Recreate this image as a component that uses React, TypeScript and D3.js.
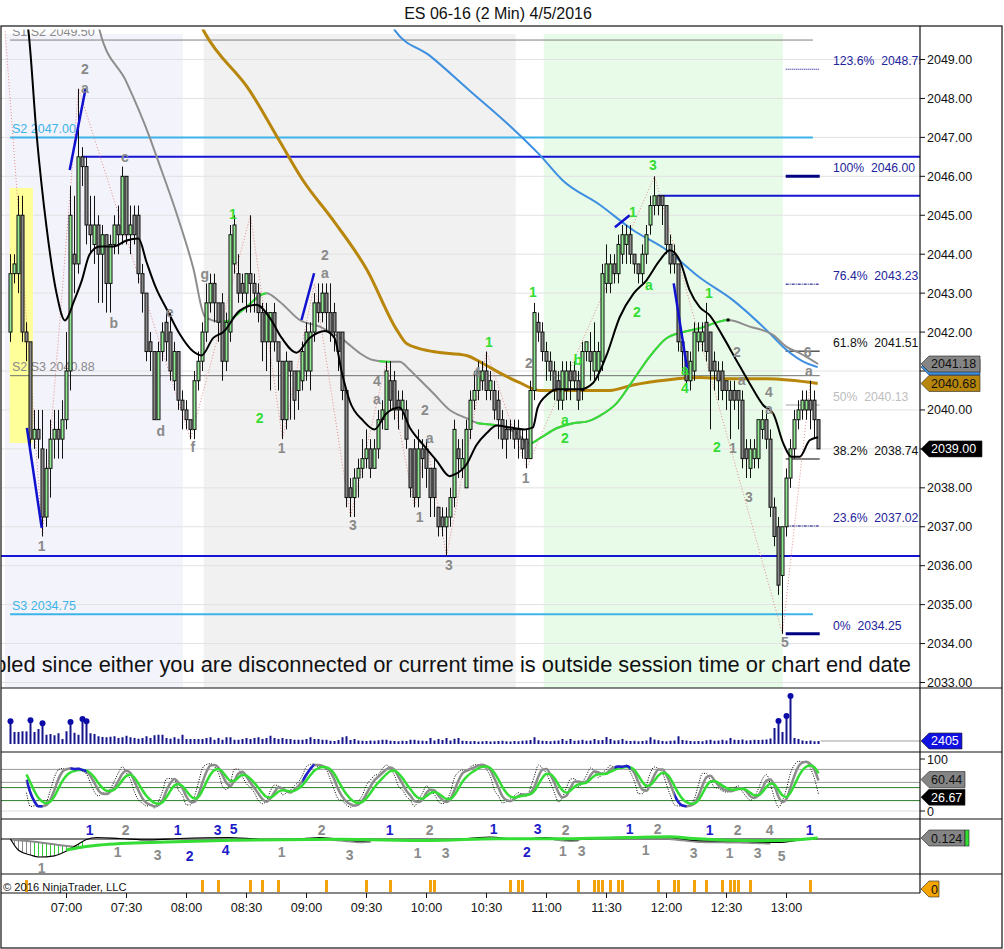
import React from "react";
import * as d3 from "d3";

// ---------------- data ----------------
const chartTitle = "ES 06-16 (2 Min)  4/5/2016";
const firstBarMinute = 392; // 06:32, one bar every 2 minutes
const barMinutes = 2;

// [open, high, low, close]
const candles: [number, number, number, number][] = [
  [2042, 2044, 2041.75, 2043.5], [2043.5, 2044, 2043.25, 2043.75], [2043.5, 2045.5, 2043, 2045], [2045, 2045.5, 2041.75, 2042],
  [2042, 2042.25, 2041.25, 2041.75], [2041.75, 2041.75, 2038.75, 2039.25], [2039.25, 2040, 2039, 2039.5], [2039.5, 2040, 2038.75, 2039.25],
  [2039, 2040, 2036.75, 2037.25], [2037.25, 2039, 2037, 2038.5], [2038.5, 2039.75, 2037.75, 2039.25], [2039.25, 2040, 2038.75, 2039.5],
  [2039.5, 2040, 2038.75, 2039.25], [2039.25, 2040.25, 2038.75, 2039.75], [2039.75, 2042, 2039.5, 2041], [2041, 2045.75, 2040.5, 2045],
  [2044, 2045.5, 2043, 2043.75], [2043.75, 2048.25, 2043.5, 2046.5], [2046.5, 2046.75, 2045.75, 2046.25], [2046.25, 2046.5, 2044.25, 2044.75],
  [2044.75, 2045.5, 2044, 2044.5], [2044.25, 2045.5, 2043.75, 2044.75], [2044.75, 2045, 2042.75, 2044], [2044, 2044.75, 2042.75, 2044.5],
  [2044.5, 2044.5, 2042.5, 2043.25], [2043.25, 2044.5, 2042.5, 2044.25], [2044.25, 2045, 2044, 2044.75], [2044.75, 2045.25, 2044, 2044.5],
  [2044.5, 2046.25, 2044.25, 2046], [2046, 2046, 2044.25, 2044.5], [2044.5, 2045.25, 2044, 2044.75], [2045, 2045.25, 2044.25, 2044.5],
  [2045, 2045.25, 2043.25, 2043.5], [2043.5, 2043.75, 2042.5, 2043], [2043, 2043, 2041.25, 2041.5], [2041.75, 2042, 2041, 2041.5],
  [2041.5, 2041.5, 2039.75, 2039.75], [2039.75, 2041.75, 2039.75, 2041.5], [2041.5, 2042.25, 2041.25, 2042], [2042.25, 2042.5, 2041.25, 2041.75],
  [2042, 2042.5, 2040.75, 2041], [2040.75, 2041.75, 2040.5, 2041.5], [2041.5, 2041.5, 2040, 2040.25], [2040.25, 2040.5, 2039.5, 2040],
  [2040, 2040.25, 2039.5, 2039.75], [2039.75, 2039.75, 2039.25, 2039.5], [2039.5, 2041, 2039.25, 2040.75], [2040.75, 2041.5, 2040.5, 2041.25],
  [2041.25, 2042.25, 2041, 2042], [2042, 2043.25, 2041.75, 2042.75], [2042.75, 2043.5, 2042.5, 2043.25], [2043.25, 2043.5, 2042.25, 2042.75],
  [2042.75, 2042.75, 2041.75, 2042.25], [2042.75, 2043, 2040.75, 2041.25], [2041.25, 2042.5, 2041, 2042.25], [2042, 2044.75, 2041.75, 2044.5],
  [2043.75, 2045, 2043.5, 2044.75], [2043.5, 2044, 2042.75, 2043], [2043.25, 2043.5, 2042.75, 2043], [2043, 2043.5, 2042.5, 2043.5],
  [2043.5, 2045, 2042.5, 2043.25], [2043.25, 2043.5, 2042.5, 2043], [2043, 2043.25, 2042.25, 2042.5], [2042.5, 2042.75, 2041.25, 2041.75],
  [2041.75, 2042.75, 2041, 2042.5], [2041.75, 2042.5, 2040.5, 2042.5], [2042.5, 2042.75, 2041.5, 2041.75], [2041.75, 2041.75, 2040.5, 2041.25],
  [2041.25, 2041.25, 2039.25, 2039.75], [2039.75, 2041.5, 2039.5, 2041.25], [2041.25, 2041.25, 2039.75, 2041], [2041, 2041, 2039.75, 2040.25],
  [2040.5, 2041, 2040, 2041], [2040.75, 2041.75, 2040.5, 2041.5], [2041, 2042.25, 2040.75, 2042], [2041, 2042.25, 2040.5, 2042],
  [2042, 2043, 2041.75, 2042.75], [2042.75, 2043.25, 2042.25, 2042.5], [2042.5, 2043.25, 2042.25, 2043], [2043, 2043.25, 2042, 2042.5],
  [2042.5, 2043.25, 2041.75, 2042], [2042.5, 2042.75, 2041.5, 2042], [2042, 2042, 2041, 2041.5], [2042, 2042, 2040.25, 2040.5],
  [2040.5, 2040.5, 2037.5, 2037.75], [2038, 2038.25, 2037.25, 2037.75], [2037.75, 2038.5, 2037.25, 2038.25], [2038.25, 2038.75, 2037.75, 2038.5],
  [2038.5, 2039.25, 2038.25, 2038.75], [2038.75, 2039.5, 2038.5, 2039], [2039, 2039.25, 2038.25, 2038.5], [2038.5, 2039.25, 2038.5, 2039],
  [2039, 2040, 2038.75, 2039.75], [2039.75, 2040.25, 2039.5, 2040], [2039.5, 2041.25, 2039.5, 2041], [2040.75, 2041.25, 2040, 2040.25],
  [2040.75, 2041, 2039.75, 2040], [2040.25, 2040.5, 2039.5, 2040], [2040, 2040.5, 2039.75, 2040.25], [2040, 2040.25, 2039, 2039.25],
  [2039, 2039, 2037.75, 2038], [2039, 2039.25, 2037.5, 2037.75], [2037.75, 2039.5, 2037.5, 2039], [2039, 2039.25, 2038.25, 2038.75],
  [2039, 2039.25, 2038, 2038.5], [2038.5, 2038.5, 2037.25, 2037.75], [2038.5, 2038.75, 2037.25, 2037.75], [2037.5, 2037.5, 2036.75, 2037],
  [2037.25, 2037.5, 2036.75, 2037], [2037, 2037.5, 2036.25, 2037.25], [2037.25, 2038, 2037, 2037.75], [2037.75, 2039.75, 2037.5, 2039.5],
  [2039, 2039.25, 2038.25, 2038.75], [2038.5, 2039.25, 2038.25, 2038.75], [2038, 2039.75, 2038, 2039.5], [2039.5, 2040.5, 2039.25, 2040.25],
  [2040.25, 2041, 2040, 2040.5], [2040.5, 2041.25, 2040.25, 2041], [2040.75, 2041.25, 2040.5, 2041], [2041, 2041.5, 2040.25, 2040.5],
  [2040.5, 2041, 2040.25, 2040.75], [2040.5, 2040.75, 2039.75, 2040], [2040.25, 2040.5, 2039.25, 2039.75], [2039.75, 2040, 2039, 2039.25],
  [2039.5, 2039.75, 2038.75, 2039.25], [2039.5, 2039.75, 2039.25, 2039.5], [2039.5, 2039.75, 2039, 2039.25], [2039.5, 2039.75, 2038.75, 2039.25],
  [2039.25, 2039.5, 2038.75, 2039], [2039.25, 2039.5, 2038.5, 2038.75], [2038.75, 2040.75, 2038.75, 2040.5], [2040.5, 2042.75, 2040.25, 2042.5],
  [2042.25, 2042.5, 2041.75, 2042], [2042, 2042.25, 2041.25, 2041.5], [2041.5, 2041.75, 2040.75, 2041.25], [2041.25, 2041.5, 2040.75, 2041],
  [2041, 2041.25, 2040.25, 2040.5], [2040.75, 2041, 2040, 2040.25], [2040.25, 2041.25, 2040, 2041], [2040.5, 2041.25, 2040.25, 2041],
  [2041, 2041.25, 2040.25, 2040.75], [2041, 2041.25, 2040.5, 2040.75], [2040.75, 2041, 2040, 2040.25], [2040.5, 2041.75, 2040.25, 2041.5],
  [2041.5, 2041.75, 2041.25, 2041.75], [2041.5, 2042, 2040.75, 2041.25], [2041, 2042.25, 2040.75, 2041.5], [2041, 2041.75, 2040.75, 2041.5],
  [2041.25, 2043.75, 2041, 2043.5], [2043.25, 2044.25, 2043, 2043.75], [2043.25, 2044, 2043, 2043.75], [2043.75, 2044, 2043.25, 2043.5],
  [2043.5, 2044.5, 2043.25, 2044.25], [2044, 2044.75, 2043.75, 2044.5], [2044.25, 2044.75, 2043.75, 2044.5], [2044.5, 2044.75, 2043.75, 2044],
  [2044, 2044, 2043.5, 2043.75], [2043.75, 2043.75, 2043.25, 2043.5], [2043.5, 2044.25, 2043.25, 2044], [2044, 2044.75, 2043.75, 2044.5],
  [2044.75, 2045.5, 2044.5, 2045.25], [2045.25, 2046, 2045, 2045.5], [2045.5, 2045.5, 2045, 2045.25], [2045.5, 2045.5, 2044.75, 2045.25],
  [2045.25, 2045.25, 2044, 2044.25], [2044.25, 2044.5, 2043.5, 2043.75], [2044, 2044.25, 2043.5, 2043.75], [2043.75, 2043.75, 2041.5, 2041.75],
  [2041.75, 2041.75, 2041, 2041.5], [2041.5, 2041.5, 2040.5, 2040.75], [2040.75, 2041.5, 2040.5, 2041.25], [2041, 2042.25, 2040.75, 2042],
  [2041.75, 2042.25, 2041.5, 2042], [2041.75, 2042.25, 2041.5, 2042], [2042.25, 2042.75, 2041.25, 2041.5], [2042, 2042, 2039.5, 2041],
  [2041.25, 2041.5, 2040.5, 2041], [2041, 2041.25, 2040.25, 2040.75], [2041, 2041.25, 2040.25, 2040.5], [2040.75, 2040.75, 2040, 2040.5],
  [2040.5, 2040.75, 2039.25, 2040.25], [2040.5, 2040.75, 2040, 2040.25], [2040.5, 2040.5, 2039.5, 2040.25], [2040.25, 2040.5, 2038.5, 2038.75],
  [2039, 2039.25, 2038.25, 2038.75], [2038.5, 2039.25, 2038.25, 2039], [2038.75, 2039.25, 2038.5, 2039], [2038.75, 2039.75, 2038.5, 2039.75],
  [2039.5, 2040, 2039.25, 2039.75], [2039.75, 2040, 2039, 2039.25], [2039.25, 2039.5, 2037.25, 2037.5], [2037.5, 2037.75, 2036.5, 2036.75],
  [2037, 2037.25, 2035.25, 2035.5], [2035.75, 2037, 2034.25, 2037], [2037, 2038.5, 2036.75, 2038.25], [2038.25, 2039.25, 2038, 2039],
  [2039, 2040, 2038.75, 2039.75], [2039.75, 2040.25, 2039.5, 2040], [2040, 2040.5, 2039.75, 2040.25], [2040, 2040.5, 2039.75, 2040.25],
  [2040.25, 2040.75, 2039.5, 2040], [2040.25, 2040.5, 2039.25, 2039.75], [2039.75, 2039.75, 2039, 2039],
];

const volumes: number[] = [
  18200, 9600, 9600, 10200, 10100, 19000, 9600, 12000, 16600, 7400, 8000, 7000, 8600, 4000, 10200, 17600, 9000, 7400, 20000, 18200, 8600, 8000, 6200,
  5600, 5400, 5800, 6200, 4800, 5400, 6600, 5400, 4800, 4200, 4800, 6200, 4800, 7000, 7400, 7400, 4800, 4200, 5400, 4200, 7400, 4000,
  4000, 4000, 4000, 4000, 4800, 5400, 3400, 4800, 3400, 5400, 5400, 3400, 3400, 4000, 4800, 4000, 4800, 5400, 4000, 4800, 6600, 4800, 4000, 4800, 4000, 4000, 3400, 3400, 3400, 4000, 5400, 4000, 4000, 3400, 3400,
  2600, 2400, 3200, 5400, 6200, 3200, 4000, 2800, 2600, 2400, 2800, 2600, 3000, 3400, 3400, 2600, 2400, 2200, 2600, 2400,
  3400, 3400, 2800, 2600, 2400, 4800, 2800, 4000, 3200, 4800, 2800, 4200, 4800, 2600, 2400, 2200, 2400, 2000, 2200, 2400,
  2000, 2200, 2400, 2600, 2200, 2000, 2400, 2200, 2600, 2800, 3200, 5400, 3000, 2600, 2400, 2200, 2600, 2800, 4000, 2600,
  4000, 2600, 2800, 3400, 2600, 2800, 4000, 3000, 3200, 5600, 4000, 2800, 3000, 4000, 2600, 2400, 2600, 2200, 2400, 2800, 5400, 3600,
  3000, 2400, 2200, 2600, 2800, 6200, 3200, 2800, 2400, 2200, 2400, 2200, 3000, 3400, 2600, 2800, 3400, 2800, 4800, 3400,
  3200, 3600, 2800, 3000, 3400, 3200, 3400, 3600, 4400, 12800, 18400, 9600, 22400, 38400, 4800, 4000, 2800, 2400, 2800, 2200, 2405,
];

const timeLabels = ["07:00", "07:30", "08:00", "08:30", "09:00", "09:30", "10:00", "10:30", "11:00", "11:30", "12:00", "12:30", "13:00"];
const priceTicks = d3.range(2033, 2050, 1);

// moving averages, sampled [bar index, price]
const fastMA: [number, number][] = [
  [3.5, 2050.3], [4.4, 2049.8], [6.5, 2047.1], [9, 2044.7], [11.5, 2043.0], [13.6, 2042.3], [14.4, 2042.4], [15.7, 2042.75], [17.75, 2043.3],
  [19.8, 2044.0], [22.3, 2044.2], [25.7, 2044.2], [29, 2044.35], [32, 2044.4], [34, 2043.8], [36.5, 2043.1], [39, 2042.6], [42.3, 2041.95],
  [45.7, 2041.5], [47.75, 2041.4], [50.7, 2041.85], [53.2, 2042.0], [57.3, 2042.55], [61.5, 2042.7], [64.8, 2042.37], [67.8, 2041.85],
  [71.5, 2041.47], [74.8, 2041.85], [78.6, 2042.03], [81, 2041.85], [82.75, 2041.0], [84.8, 2040.23], [88.2, 2039.72], [91, 2039.5],
  [93.9, 2039.9], [97.3, 2040.06], [99.8, 2039.55], [103.2, 2039.1], [106.5, 2038.7], [109.8, 2038.3], [111.2, 2038.35], [114, 2038.6],
  [116.5, 2039.1], [119, 2039.4], [121.6, 2039.6], [125, 2039.55], [128.5, 2039.5], [130.6, 2039.55], [131.8, 2040.06], [134.3, 2040.4],
  [136.8, 2040.53], [139, 2040.53], [142.3, 2040.53], [145.7, 2040.7], [149, 2041.4], [152.3, 2042.38], [155.7, 2042.98], [159, 2043.33],
  [162.3, 2043.84], [164.8, 2044.1], [167.3, 2043.84], [169.8, 2043.07], [172.3, 2042.64], [174.8, 2042.43], [178.2, 2041.87],
  [181.5, 2041.27], [184.8, 2040.68], [188.2, 2040.12], [190.7, 2039.9], [193.2, 2039.14], [195.2, 2038.8], [197.3, 2038.8],
  [199.8, 2039.22], [201.9, 2039.3],
];
const midMA: [number, number][] = [
  [21.5, 2050.2], [22.3, 2049.74], [29, 2048.42], [34.8, 2047.0], [36.5, 2046.51], [41.5, 2045.05], [45.7, 2043.64], [48.6, 2042.4],
  [52.3, 2042.27], [53.6, 2042.27], [58.1, 2042.57], [64, 2043.0], [67.3, 2042.78], [72.3, 2042.31], [77.3, 2042.14], [83.2, 2041.8],
  [87.3, 2041.46], [90.6, 2041.28], [94, 2041.24], [97.3, 2041.24], [99.8, 2041.03], [101.5, 2040.86], [105.7, 2040.43], [109.8, 2040.0],
  [114, 2039.79], [116.9, 2039.66], [121.5, 2039.61], [126.5, 2039.4], [129.8, 2039.14], [132.3, 2039.27], [136.5, 2039.53],
  [140.7, 2039.66], [144, 2039.7], [147.3, 2039.85], [151.5, 2040.17], [155.7, 2040.77], [159.8, 2041.37], [164, 2041.84],
  [168.2, 2042.0], [172.3, 2042.1], [179.4, 2042.31], [184.8, 2042.14], [190.6, 2041.93], [194, 2041.62], [197.3, 2041.46], [201.9, 2041.18],
];
const midMARising: [number, number][] = [[52.3, 64], [92.2, 95], [116.5, 121.5], [129.8, 179.4]];
const slowMA: [number, number][] = [
  [46.5, 2050.1], [48.6, 2049.68], [59.8, 2048.2], [67.3, 2046.9], [73.1, 2045.9], [80.6, 2044.88], [89.1, 2043.6], [96.6, 2042.05],
  [99.1, 2041.7], [105.6, 2041.5], [114, 2041.4], [118, 2041.2], [122.3, 2040.95], [127.3, 2040.7], [132.3, 2040.5], [143, 2040.5],
  [149.8, 2040.5], [155.6, 2040.64], [164.1, 2040.77], [172.3, 2040.83], [180.6, 2040.8], [189, 2040.8], [201.8, 2040.68],
];
const longMA: [number, number][] = [
  [95, 2050.1], [96, 2049.76], [104.8, 2049.1], [114.8, 2048.2], [124.8, 2047.3], [132.3, 2046.55], [138, 2045.9], [147.3, 2045.27],
  [155.6, 2044.62], [164.1, 2044.1], [172.3, 2043.4], [180.6, 2042.82], [189, 2042.05], [194, 2041.54], [199, 2041.2], [201.8, 2041.1],
];

// swing zigzag [bar, price]
const zigzag: [number, number][] = [
  [-1.4, 2049.8], [8, 2036.75], [17, 2048.25], [45, 2039.25], [60, 2045], [68, 2039.25], [76, 2043.25], [85, 2037.25], [94, 2041.25],
  [101, 2037.5], [104, 2039.25], [109, 2036.25], [119, 2041.5], [129, 2038.5], [161, 2046], [193, 2034.25], [200, 2040.75],
];
// blue trend segments [bar0, price0, bar1, price1]
const trendSegments: [number, number, number, number][] = [
  [4.1, 2039.54, 7.8, 2036.97], [14.8, 2046.16, 18.8, 2048.27], [72.75, 2042.31, 75.9, 2043.51],
  [151.1, 2044.69, 154.8, 2045.0], [165.8, 2043.25, 169.2, 2041.03],
];

// wave labels [text, bar, price]
const grayWaveLabels: [string, number, number][] = [
  ["2", 18.6, 2048.76], ["a", 18.6, 2048.27], ["1", 7.8, 2036.5], ["c", 28.6, 2046.5], ["b", 25.8, 2042.23], ["d", 37.6, 2039.46],
  ["e", 39.8, 2042.52], ["f", 45.6, 2039.05], ["g", 48.6, 2043.49], ["2", 78.6, 2043.98], ["a", 78.6, 2043.52], ["1", 67.8, 2039.02],
  ["3", 85.6, 2037.05], ["4", 91.6, 2040.75], ["a", 91.6, 2040.28], ["2", 103.6, 2040.0], ["a", 104.8, 2039.28], ["1", 102.3, 2037.25],
  ["3", 109.6, 2036.02], ["4", 116.6, 2040.98], ["1", 128.8, 2038.25], ["2", 129.6, 2041.2], ["2", 181.6, 2041.49], ["a", 182.8, 2040.77],
  ["1", 180.6, 2039.02], ["3", 184.6, 2037.76], ["4", 189.6, 2040.46], ["a", 189.6, 2040.03], ["5", 193.6, 2034.04], ["6", 199.3, 2041.49],
  ["a", 199.6, 2041.0],
];
const greenWaveLabels: [string, number, number][] = [
  ["1", 55.6, 2045.03], ["2", 62.3, 2039.79], ["1", 119.6, 2041.75], ["1", 130.6, 2043.03], ["b", 141.8, 2041.28], ["a", 138.6, 2039.74],
  ["2", 138.6, 2039.28], ["1", 155.6, 2045.08], ["3", 160.6, 2046.29], ["2", 156.6, 2042.52], ["a", 159.6, 2043.21], ["a", 168.6, 2041.03],
  ["4", 168.6, 2040.56], ["1", 174.6, 2043.0], ["2", 176.6, 2039.05],
];

// pivot lines
const pivotLabels = [
  { text: "S1 S2 2049.50", price: 2049.5 },
  { text: "S2 2047.00", price: 2047.0 },
  { text: "S2 S3 2040.88", price: 2040.88 },
  { text: "S3 2034.75", price: 2034.75 },
];
const swingLevels: [number, number][] = [[2046.5, 17.8], [2045.5, 161.8], [2036.25, -3]]; // price, starting bar

const fibLevels: [string, number, string][] = [
  ["123.6%", 2048.75, "2048.75"], ["100%", 2046.0, "2046.00"], ["76.4%", 2043.23, "2043.23"], ["61.8%", 2041.51, "2041.51"],
  ["50%", 2040.13, "2040.13"], ["38.2%", 2038.74, "2038.74"], ["23.6%", 2037.02, "2037.02"], ["0%", 2034.25, "2034.25"],
];

const sessionRanges: [number, number][] = [[-1.4, 43.1], [48.3, 126.3], [133.3, 193.1]];
const highlightBox = { bar0: -0.2, bar1: 5.6, low: 2039.15, high: 2045.7 };

const stochHighlights: [number, number][] = [[4, 8], [15, 19], [73, 76], [151, 155], [166, 169]];

// momentum panel samples [bar, value]
const momBlack: [number, number][] = [
  [0, 0], [2, -1.4], [5, -2.0], [7, -2.25], [11, -2.1], [14, -1.5], [16.6, -0.75], [19, -0.06], [21.6, 0.19], [27.3, 0.06],
  [34.8, -0.12], [42.3, 0.06], [54.8, 0.19], [67.3, -0.19], [77.3, 0.19], [87.3, -0.25], [97.3, -0.06], [107.3, -0.19], [119.8, 0.25],
  [127.3, -0.06], [133.6, 0.19], [139.8, -0.1], [149.8, 0.19], [162.3, 0.28], [172.3, -0.22], [182.3, -0.28], [192.3, -0.44],
  [197.3, -0.12], [201.8, 0.03],
];
const momGreen: [number, number][] = [
  [14, -1.375], [18, -1.0], [22.3, -0.75], [39, -0.375], [55.6, -0.16], [82.3, -0.04], [104.8, -0.19], [121.5, 0.04], [138, 0.03],
  [154.8, 0.19], [164.8, 0.28], [170.6, 0.06], [187.3, -0.22], [195.6, -0.12], [201.8, 0.124],
];
const momSignal: [number, number][] = [[0, -0.06], [6, -0.35], [12, -0.75], [18, -1.1]];
const momGrayRanges: [number, number][] = [[80, 90], [136, 142], [165, 190]];
const momBlueLabels: [string, number, number][] = [
  ["1", 19.8, 1.125], ["1", 41.8, 1.125], ["2", 44.8, -2.1], ["3", 51.8, 1.125], ["4", 53.8, -1.4], ["5", 55.8, 1.25], ["1", 94.8, 1.125],
  ["1", 120.8, 1.25], ["3", 131.8, 1.25], ["2", 129.1, -1.6], ["1", 154.8, 1.25], ["1", 174.8, 1.125], ["1", 199.8, 1.125],
];
const momGrayLabels: [string, number, number][] = [
  ["2", 28.8, 1.125], ["1", 26.8, -1.6], ["3", 36.8, -2.0], ["1", 67.8, -1.6], ["2", 77.8, 1.125], ["1", 7.8, -3.6], ["3", 84.8, -2.0],
  ["2", 104.8, 1.125], ["1", 101.8, -1.75], ["3", 108.8, -1.75], ["2", 138.8, 1.125], ["1", 138.1, -1.5], ["3", 142.8, -1.5],
  ["2", 161.8, 1.25], ["1", 158.8, -1.4], ["3", 170.8, -1.75], ["2", 181.8, 1.125], ["1", 179.8, -1.75], ["4", 189.8, 1.125],
  ["3", 186.8, -1.75], ["5", 192.8, -2.1],
];
const signalBars: number[] = [4, 48, 52, 60, 63, 67, 79, 89, 95, 105, 106, 125, 127, 128, 142, 146, 147, 148, 150, 152, 153, 162, 166, 167, 171, 174, 178, 180, 181, 182, 185, 200];

const tagValues = { vol: "2405", stochD: "60.44", stochK: "26.67", mom: "0.124", signal: "0" };
const bannerText = "disabled since either you are disconnected or current time is outside session time or chart end date";

// ---------------- layout ----------------
const FONT = "'Liberation Sans', Arial, Helvetica, sans-serif";
const plotL = 1, plotR = 920, frameR = 1002, frameT = 26, frameB = 948;
const mainTop = 29.5, mainB = 688, volB = 752, stochB = 819, momB = 874, markB = 893;

const xBar = d3.scaleLinear().domain([0, candles.length - 1]).range([10.5, 10.5 + 4 * (candles.length - 1)]);
const xMinute = (m: number) => xBar((m - firstBarMinute) / barMinutes);
const yPrice = d3.scaleLinear().domain([2033, 2049]).range([682.5, 59.5]);
const yVol = d3.scaleLinear().domain([0, 40000]).range([744, 694]);
const yStoch = d3.scaleLinear().domain([0, 100]).range([811, 759]);
const yMom = d3.scaleLinear().domain([-1, 1]).range([847, 831]);

function interp(samples: [number, number][]) {
  return d3.scaleLinear().domain(samples.map((d) => d[0])).range(samples.map((d) => d[1])).clamp(true);
}

// stochastics derived from candles
const rawK = candles.map((c, i) => {
  const w = candles.slice(Math.max(0, i - 4), i + 1);
  const hh = d3.max(w, (d) => d[1]) as number;
  const ll = d3.min(w, (d) => d[2]) as number;
  return hh === ll ? 50 : (100 * (c[3] - ll)) / (hh - ll);
});
const sma = (a: number[], n: number) => a.map((_, i) => d3.mean(a.slice(Math.max(0, i - n + 1), i + 1)) as number);
const stochK = sma(rawK, 3);
const stochD = sma(stochK, 3);
const stochSlow: number[] = [];
stochD.forEach((v, i) => stochSlow.push(i === 0 ? v : stochSlow[i - 1] + 0.45 * (v - stochSlow[i - 1])));

export default function App() {
  const priceLine = d3.line<[number, number]>().x((d) => xBar(d[0])).y((d) => yPrice(d[1])).curve(d3.curveMonotoneX);
  const momLine = d3.line<[number, number]>().x((d) => xBar(d[0])).y((d) => yMom(d[1])).curve(d3.curveMonotoneX);
  const stochLine = d3.line<number>().x((_, i) => xBar(i + 4)).y((d) => yStoch(d)).curve(d3.curveMonotoneX);
  const stochPts = (a: number[]) => a.slice(4);

  const momBlackAt = interp(momBlack);
  const momSignalAt = interp(momSignal);

  const lastMid = midMA[midMA.length - 1][1];
  const lastSlow = slowMA[slowMA.length - 1][1];
  const lastLong = longMA[longMA.length - 1][1];
  const lastClose = candles[candles.length - 1][3];
  // price-axis labels hidden behind the value tags (as in the reference)
  const tagYs = [lastMid, lastSlow, lastLong, lastClose].map((p) => yPrice(p));
  const visibleTicks = priceTicks.filter((p) => tagYs.every((ty) => Math.abs(yPrice(p) - ty) > 11));

  const tagShape = (y: number, w: number, fill: string) =>
    <path d={`M${plotR + 1},${y} L${plotR + 9},${y - 8} L${plotR + 1 + w},${y - 8} L${plotR + 1 + w},${y + 8} L${plotR + 9},${y + 8} Z`}
      fill={fill} stroke="#222" strokeWidth={0.6} />;
  const tag = (y: number, w: number, fill: string, color: string, text: string, key: string, extra?: React.ReactNode) => (
    <g key={key}>
      {tagShape(y, w, fill)}
      {extra}
      <text x={plotR + 11} y={y + 4.5} fontSize={12.5} fill={color} fontFamily={FONT}>{text}</text>
    </g>
  );

  const fibStyle: Record<string, { stroke: string; width: number; dash?: string; text: string }> = {
    "123.6%": { stroke: "#000080", width: 1, dash: "1,1", text: "#23239b" },
    "100%": { stroke: "#000080", width: 3, text: "#23239b" },
    "76.4%": { stroke: "#000080", width: 1, dash: "3,1,1,1", text: "#23239b" },
    "61.8%": { stroke: "#000", width: 1, text: "#111" },
    "50%": { stroke: "#c0c0c0", width: 1.5, text: "#bdbdbd" },
    "38.2%": { stroke: "#000", width: 1, text: "#111" },
    "23.6%": { stroke: "#000080", width: 1, dash: "3,1,1,1", text: "#23239b" },
    "0%": { stroke: "#000080", width: 3, text: "#23239b" },
  };
  const sessionFills = ["#f3f3fb", "#f1f1f1", "#e8fbe8"];

  return (
    <svg width={1004} height={949} style={{ position: "absolute", left: 0, top: 0, background: "#fff" }} fontFamily={FONT}>
      <defs>
        <clipPath id="mainClip"><rect x={plotL} y={mainTop} width={plotR - plotL} height={mainB - mainTop} /></clipPath>
        <clipPath id="momClip"><rect x={plotL} y={stochB + 0.5} width={plotR - plotL} height={momB - stochB - 1} /></clipPath>
        <clipPath id="risingClip">
          {midMARising.map(([a, b], k) => <rect key={k} x={xBar(a)} y={0} width={xBar(b) - xBar(a)} height={mainB} />)}
        </clipPath>
        <clipPath id="stochHiClip">
          {stochHighlights.map(([a, b], k) => <rect key={k} x={xBar(a)} y={volB} width={xBar(b) - xBar(a)} height={stochB - volB} />)}
        </clipPath>
      </defs>

      <text x={498} y={19} fontSize={16} textAnchor="middle" fill="#111">{chartTitle}</text>

      {/* ---------- main price panel ---------- */}
      <g clipPath="url(#mainClip)">
        {sessionRanges.map(([a, b], k) => (
          <rect key={k} x={xBar(a)} y={34} width={xBar(b) - xBar(a)} height={mainB - 34} fill={sessionFills[k]} />
        ))}
        {priceTicks.map((p) => (
          <line key={p} x1={plotL} x2={plotR} y1={yPrice(p)} y2={yPrice(p)} stroke="#e2e2e2" strokeWidth={1} />
        ))}
        <rect x={xBar(highlightBox.bar0)} y={yPrice(highlightBox.high)} width={xBar(highlightBox.bar1) - xBar(highlightBox.bar0)}
          height={yPrice(highlightBox.low) - yPrice(highlightBox.high)} fill="#ffff99" />

        {/* pivot lines */}
        <line x1={xBar(-0.1)} x2={xBar(200.6)} y1={yPrice(2049.5)} y2={yPrice(2049.5)} stroke="#808080" strokeWidth={1} />
        <line x1={xBar(-0.1)} x2={xBar(200.6)} y1={yPrice(2047)} y2={yPrice(2047)} stroke="#3cb4ea" strokeWidth={2} />
        <line x1={xBar(-0.1)} x2={xBar(202.3)} y1={yPrice(2040.88)} y2={yPrice(2040.88)} stroke="#707070" strokeWidth={1} />
        <line x1={xBar(-0.1)} x2={xBar(200.6)} y1={yPrice(2034.75)} y2={yPrice(2034.75)} stroke="#3cb4ea" strokeWidth={2} />
        {pivotLabels.map((d, k) => (
          <text key={k} x={12} y={yPrice(d.price) - 4.5} fontSize={12.5} fill={k === 1 || k === 3 ? "#3cb4ea" : "#8a8a8a"}>{d.text}</text>
        ))}
        {swingLevels.map(([p, b], k) => (
          <line key={k} x1={xBar(b)} x2={plotR} y1={yPrice(p)} y2={yPrice(p)} stroke="#1414d2" strokeWidth={2} />
        ))}

        {/* fib levels */}
        {fibLevels.map(([pct, p, label]) => {
          const s = fibStyle[pct];
          return (
            <g key={pct}>
              <line x1={xBar(193.8)} x2={xBar(202.3)} y1={yPrice(p)} y2={yPrice(p)} stroke={s.stroke} strokeWidth={s.width} strokeDasharray={s.dash} />
              <text x={833} y={yPrice(p) - 4} fontSize={12.2} fill={s.text}>{pct}{"\u00a0\u00a0"}{label}</text>
            </g>
          );
        })}

        {/* zigzag */}
        <path d={d3.line<[number, number]>().x((d) => xBar(d[0])).y((d) => yPrice(d[1]))(zigzag) || ""} fill="none" stroke="#e58a8a" strokeWidth={1} strokeDasharray="1,2" />

        {/* moving averages */}
        <path d={priceLine(longMA) || ""} fill="none" stroke="#3d8fe0" strokeWidth={2} />
        <path d={priceLine(slowMA) || ""} fill="none" stroke="#b8860b" strokeWidth={3} />
        <path d={priceLine(midMA) || ""} fill="none" stroke="#8e8e8e" strokeWidth={2} />
        <path d={priceLine(midMA) || ""} fill="none" stroke="#33dd33" strokeWidth={2} clipPath="url(#risingClip)" />

        {/* candles */}
        {candles.map(([o, h, l, c], i) => {
          const x = xBar(i);
          const top = yPrice(Math.max(o, c));
          const bot = yPrice(Math.min(o, c));
          const up = c > o;
          return (
            <g key={i}>
              <line x1={x} x2={x} y1={yPrice(h)} y2={yPrice(l)} stroke="#111" strokeWidth={1} />
              {o === c ? (
                <line x1={x - 2} x2={x + 2} y1={top} y2={top} stroke="#111" strokeWidth={1} />
              ) : (
                <rect x={x - 1.5} y={top} width={3} height={Math.max(1, bot - top)} fill={up ? "#92e892" : "#8a8a8a"} stroke="#111" strokeWidth={1} />
              )}
            </g>
          );
        })}

        <path d={priceLine(fastMA) || ""} fill="none" stroke="#000" strokeWidth={2} />
        <rect x={xBar(179.4) - 1.5} y={yPrice(2042.31) - 1.5} width={3} height={3} fill="#000" />

        {trendSegments.map(([a, p0, b, p1], k) => (
          <line key={k} x1={xBar(a)} y1={yPrice(p0)} x2={xBar(b)} y2={yPrice(p1)} stroke="#1010d0" strokeWidth={2.5} />
        ))}

        {grayWaveLabels.map(([t, b, p], k) => (
          <text key={"g" + k} x={xBar(b)} y={yPrice(p) + 5} textAnchor="middle" fontSize={14} fontWeight="bold" fill="#8a8a8a">{t}</text>
        ))}
        {greenWaveLabels.map(([t, b, p], k) => (
          <text key={"n" + k} x={xBar(b)} y={yPrice(p) + 5} textAnchor="middle" fontSize={14} fontWeight="bold" fill="#33dd33">{t}</text>
        ))}

        <text x={911} y={672} textAnchor="end" fontSize={21.85} fill="#111">{bannerText}</text>
      </g>

      {/* price axis */}
      {priceTicks.map((p) => (
        <line key={"t" + p} x1={plotR} x2={plotR + 5} y1={yPrice(p)} y2={yPrice(p)} stroke="#111" />
      ))}
      {visibleTicks.map((p) => (
        <text key={"l" + p} x={927} y={yPrice(p) + 4.5} fontSize={12.5} fill="#111">{p.toFixed(2)}</text>
      ))}
      {tagShape(yPrice(lastLong), 59, "#3d8fe0")}
      {tag(yPrice(lastMid), 59, "#858585", "#111", lastMid.toFixed(2), "grayTag")}
      {tag(yPrice(lastSlow), 59, "#b8860b", "#111", lastSlow.toFixed(2), "goldTag")}
      {tag(yPrice(lastClose), 61, "#000", "#fff", lastClose.toFixed(2), "lastTag")}

      {/* ---------- volume ---------- */}
      <line x1={xBar(candles.length - 1) + 2} x2={plotR} y1={yVol(+tagValues.vol)} y2={yVol(+tagValues.vol)} stroke="#a0a0a0" />
      {volumes.map((v, i) => (
        <g key={i}>
          <line x1={xBar(i)} x2={xBar(i)} y1={yVol(0)} y2={yVol(v)} stroke="#14148c" strokeWidth={2} />
          {v > 15000 && <circle cx={xBar(i)} cy={yVol(v)} r={3} fill="#0c0ca8" />}
        </g>
      ))}
      {tag(yVol(+tagValues.vol), 41, "#1212e0", "#fff", tagValues.vol, "volTag")}

      {/* ---------- stochastics ---------- */}
      {[80, 55].map((v) => <line key={v} x1={plotL} x2={plotR} y1={yStoch(v)} y2={yStoch(v)} stroke="#9a9a9a" />)}
      {[45, 20].map((v) => <line key={v} x1={plotL} x2={plotR} y1={yStoch(v)} y2={yStoch(v)} stroke="#2a7d2a" />)}
      <line x1={plotL} x2={plotR} y1={yStoch(0)} y2={yStoch(0)} stroke="#dcdcdc" />
      <path d={stochLine(stochPts(stochK)) || ""} fill="none" stroke="#000" strokeWidth={1} strokeDasharray="1,1.5" />
      <path d={stochLine(stochPts(stochD)) || ""} fill="none" stroke="#8c8c8c" strokeWidth={2.5} />
      <path d={stochLine(stochPts(stochSlow)) || ""} fill="none" stroke="#33dd33" strokeWidth={2.5} />
      <path d={stochLine(stochPts(stochD)) || ""} fill="none" stroke="#1f1fd0" strokeWidth={2.5} clipPath="url(#stochHiClip)" />
      {[100, 0].map((v) => (
        <g key={v}>
          <line x1={plotR} x2={plotR + 5} y1={yStoch(v)} y2={yStoch(v)} stroke="#111" />
          <text x={927} y={yStoch(v) + 4.5} fontSize={12.5} fill="#111">{v}</text>
        </g>
      ))}
      {tag(yStoch(+tagValues.stochD), 44, "#858585", "#111", tagValues.stochD, "sdTag")}
      {tag(yStoch(+tagValues.stochK), 44, "#000", "#fff", tagValues.stochK, "skTag")}

      {/* ---------- momentum ---------- */}
      <g clipPath="url(#momClip)">
        {d3.range(0, 19).map((i) => (
          <line key={i} x1={xBar(i)} x2={xBar(i)} y1={yMom(momSignalAt(i))} y2={yMom(momBlackAt(i))} stroke={i < 6 ? "#8a8a8a" : "#33cc33"} strokeWidth={1} />
        ))}
        <line x1={plotL} x2={plotR} y1={yMom(0)} y2={yMom(0)} stroke="#000" />
        <path d={momLine(momSignal) || ""} fill="none" stroke="#8a8a8a" strokeWidth={2} />
        {momGrayRanges.map(([a, b], k) => (
          <path key={k} d={momLine(d3.range(a, b + 0.01, 1).map((i) => [i, momBlackAt(i) - 0.1] as [number, number])) || ""} fill="none" stroke="#8e8e8e" strokeWidth={3} />
        ))}
        <path d={momLine(momBlack) || ""} fill="none" stroke="#000" strokeWidth={1.2} />
        <path d={momLine(momGreen) || ""} fill="none" stroke="#33dd33" strokeWidth={3} />
        {momBlueLabels.map(([t, b, v], k) => (
          <text key={"b" + k} x={xBar(b)} y={yMom(v) + 5} textAnchor="middle" fontSize={14} fontWeight="bold" fill="#1c1cc8">{t}</text>
        ))}
        {momGrayLabels.map(([t, b, v], k) => (
          <text key={"g" + k} x={xBar(b)} y={yMom(v) + 5} textAnchor="middle" fontSize={14} fontWeight="bold" fill="#8a8a8a">{t}</text>
        ))}
      </g>
      {tag(yMom(+tagValues.mom), 44, "#858585", "#111", tagValues.mom, "momTag",
        <rect x={plotR + 45} y={yMom(+tagValues.mom) - 8} width={4} height={16} fill="#33dd33" stroke="#222" strokeWidth={0.6} />)}

      {/* ---------- signal markers ---------- */}
      {signalBars.map((b) => (
        <rect key={b} x={xBar(b) - 1.5} y={880} width={3} height={12} fill="#f2a20c" />
      ))}
      <text x={3} y={890.5} fontSize={11.2} fill="#111">© 2016 NinjaTrader, LLC</text>
      {tag(889, 18, "#f5a500", "#111", tagValues.signal, "sigTag")}

      {/* ---------- time axis ---------- */}
      {timeLabels.map((t) => {
        const [hh, mm] = t.split(":").map(Number);
        const x = xMinute(hh * 60 + mm);
        return (
          <g key={t}>
            <line x1={x} x2={x} y1={markB} y2={markB + 5} stroke="#111" />
            <text x={x} y={911.5} fontSize={12.6} textAnchor="middle" fill="#111">{t}</text>
          </g>
        );
      })}

      {/* ---------- frame ---------- */}
      <rect x={plotL} y={frameT} width={frameR - plotL} height={frameB - frameT} fill="none" stroke="#111" strokeWidth={1.2} />
      <line x1={plotR} x2={plotR} y1={frameT} y2={markB} stroke="#111" strokeWidth={1.2} />
      {[mainB, volB, stochB, momB].map((y) => (
        <line key={y} x1={plotL} x2={frameR} y1={y} y2={y} stroke="#111" strokeWidth={1.2} />
      ))}
      <line x1={plotL} x2={plotR} y1={markB} y2={markB} stroke="#111" strokeWidth={1.2} />
    </svg>
  );
}
